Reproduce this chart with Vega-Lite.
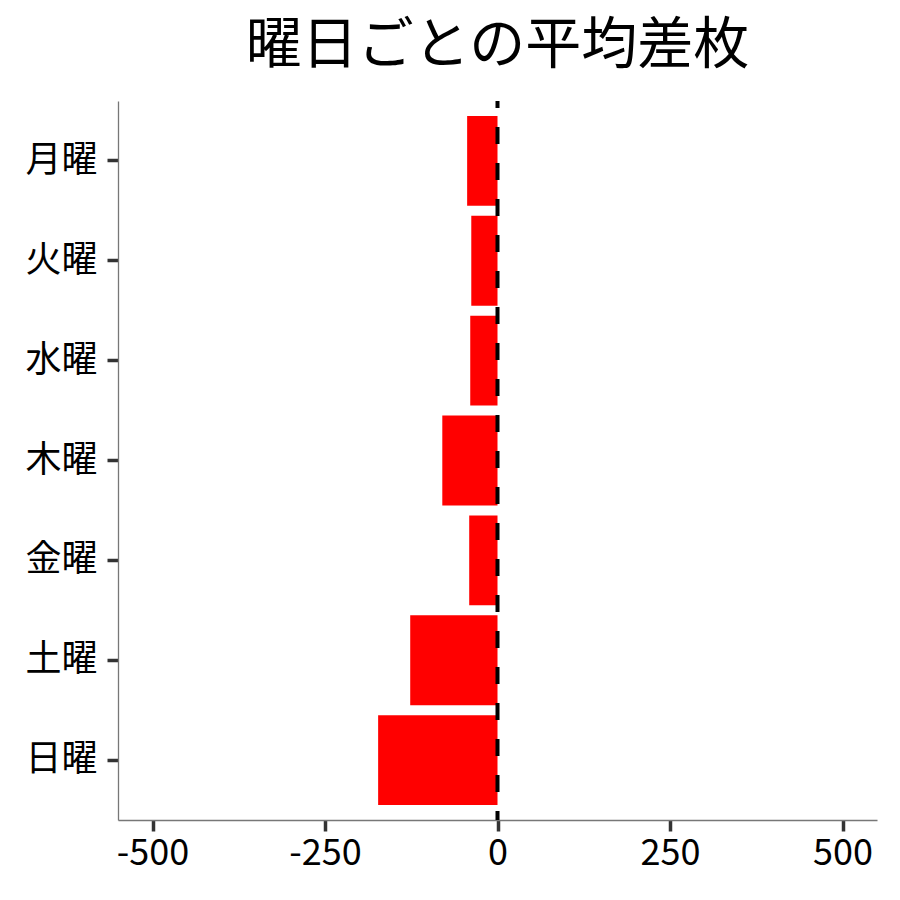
{
  "$schema": "https://vega.github.io/schema/vega-lite/v6.json",
  "width": 759,
  "height": 719,
  "autosize": {"type": "none"},
  "padding": {"left": 118, "top": 101, "right": 23, "bottom": 80},
  "background": "white",
  "title": {
    "text": "曜日ごとの平均差枚",
    "font": "Noto Sans CJK JP",
    "fontSize": 56,
    "fontWeight": "normal",
    "color": "black",
    "anchor": "middle",
    "frame": "group",
    "baseline": "bottom",
    "offset": -32
  },
  "data": {
    "values": [
      {"day": "月曜", "diff": -44},
      {"day": "火曜", "diff": -38},
      {"day": "水曜", "diff": -39.5},
      {"day": "木曜", "diff": -80},
      {"day": "金曜", "diff": -41},
      {"day": "土曜", "diff": -126.5},
      {"day": "日曜", "diff": -173}
    ]
  },
  "layer": [
    {
      "mark": {"type": "bar", "color": "#FF0000"},
      "encoding": {
        "y": {
          "field": "day",
          "type": "nominal",
          "sort": ["月曜", "火曜", "水曜", "木曜", "金曜", "土曜", "日曜"],
          "scale": {"paddingInner": 0.1, "paddingOuter": 0.15},
          "axis": {"title": null, "labelPadding": 10}
        },
        "x": {
          "field": "diff",
          "type": "quantitative",
          "scale": {"domain": [-550, 550], "nice": false, "zero": false},
          "axis": {
            "title": null,
            "values": [-500, -250, 0, 250, 500],
            "labelExpr": "'' + datum.value",
            "labelPadding": 5
          }
        }
      }
    },
    {
      "data": {"values": [{"ref": 0}]},
      "mark": {
        "type": "rule",
        "color": "black",
        "strokeWidth": 4,
        "strokeDash": [17, 19],
        "strokeDashOffset": 10
      },
      "encoding": {
        "x": {"field": "ref", "type": "quantitative"}
      }
    }
  ],
  "config": {
    "view": {"stroke": null},
    "axis": {
      "grid": false,
      "labelFont": "Noto Sans CJK JP",
      "labelFontSize": 36,
      "labelColor": "black",
      "tickSize": 11,
      "tickWidth": 3.5,
      "tickColor": "#333333",
      "domainColor": "#777777",
      "domainWidth": 1.3
    }
  }
}
